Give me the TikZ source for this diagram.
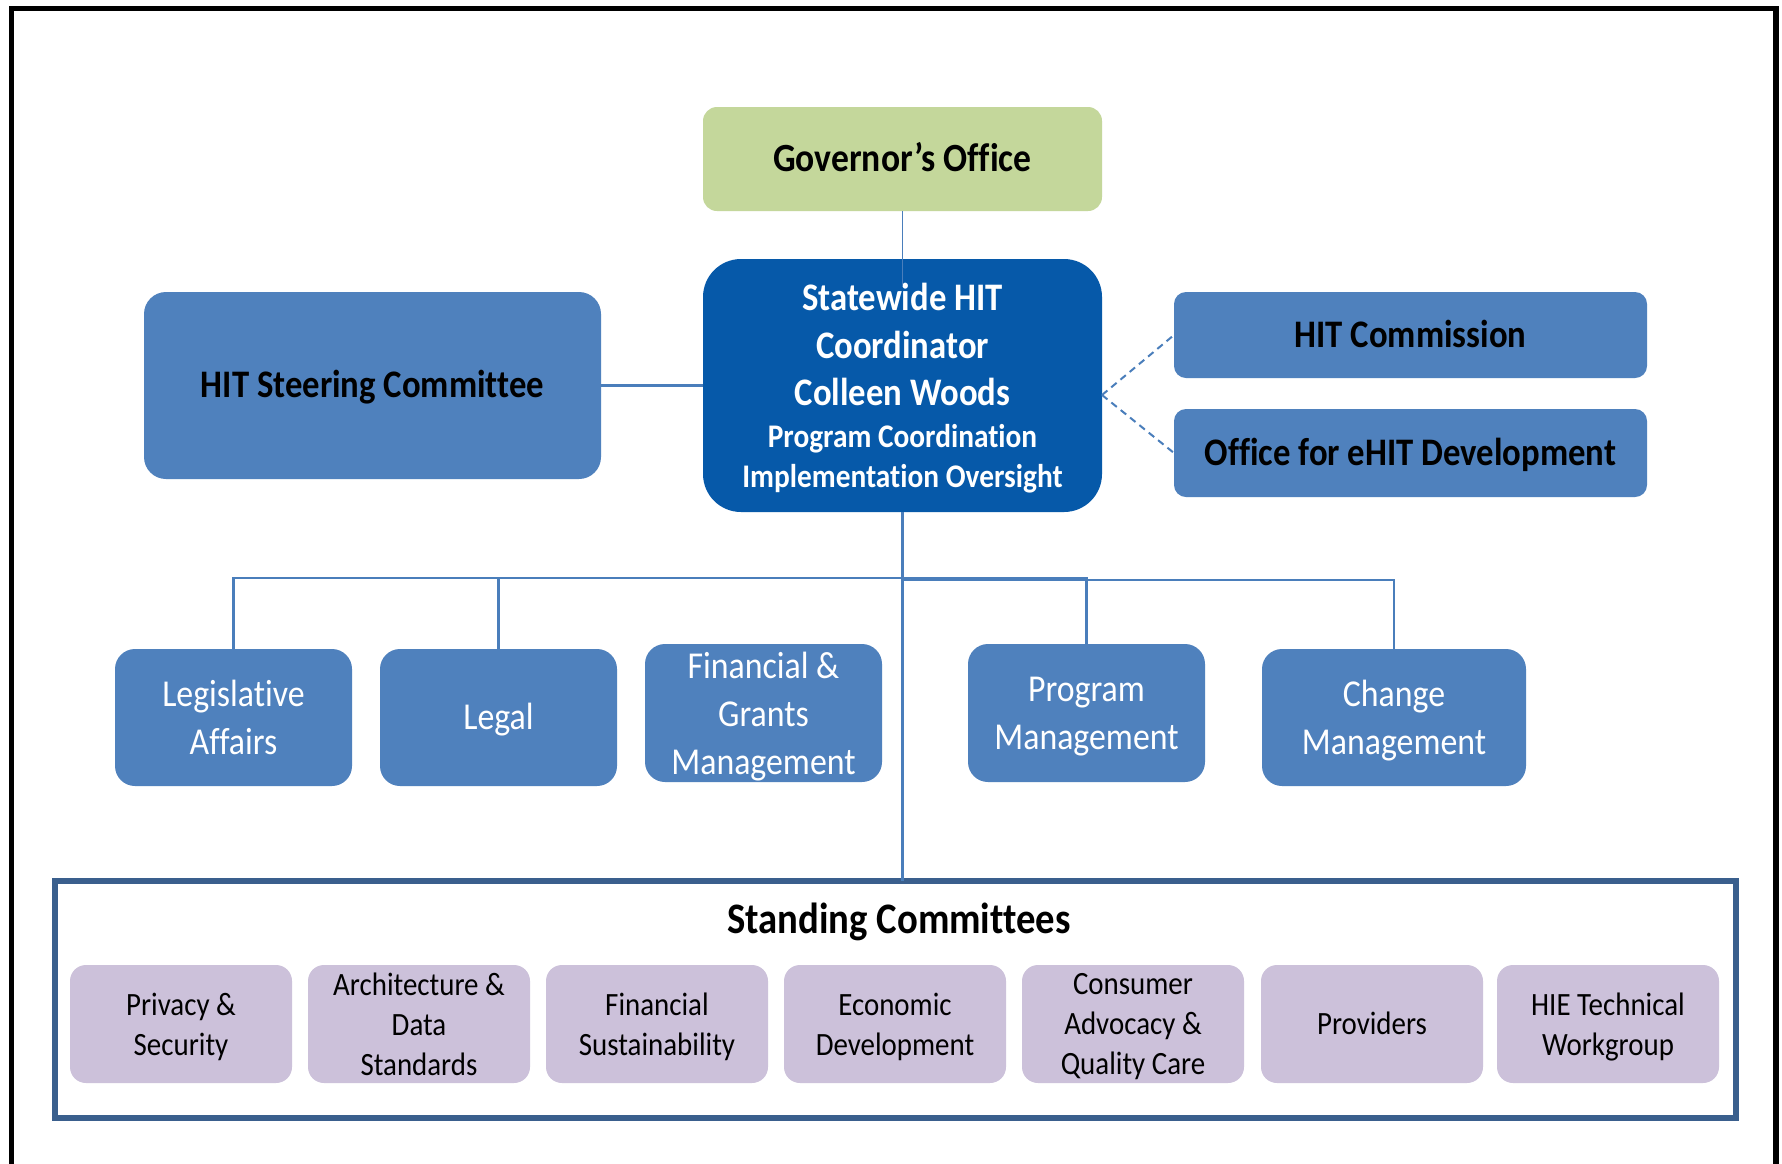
\documentclass[tikz,border=0pt]{standalone}
\usepackage{fontspec}
\setmainfont{Carlito}[FakeStretch=0.89, Ligatures=NoCommon]
\definecolor{govgreen}{HTML}{C4D79B}
\definecolor{swblue}{HTML}{0659A9}
\definecolor{boxblue}{HTML}{4F81BD}
\definecolor{linkblue}{HTML}{4A7EBB}
\definecolor{purp}{HTML}{CCC1DA}
\definecolor{standborder}{HTML}{3A5F8D}
\begin{document}
\begin{tikzpicture}[x=1pt,y=-1pt,
  base/.style={inner sep=0pt, outer sep=0pt, align=center},
  oneline/.style={text height=#1, text depth=0pt},
  govbox/.style={base, oneline=25.2pt, fill=govgreen, rounded corners=14pt, minimum width=399pt, minimum height=104pt, font=\fontsize{40}{47}\selectfont\bfseries},
  swbox/.style={base, fill=swblue, rounded corners=38pt, minimum width=399pt, minimum height=253pt},
  swbig/.style={base, anchor=base, text=white, font=\fontsize{39}{47}\selectfont\bfseries},
  swsmall/.style={base, anchor=base, text=white, font=\fontsize{33}{40}\selectfont\bfseries},
  sidebox/.style={base, oneline=24.6pt, fill=boxblue, rounded corners=22pt, font=\fontsize{39}{47}\selectfont\bfseries},
  rightbox/.style={base, oneline=24.6pt, fill=boxblue, rounded corners=12pt, minimum width=473pt, font=\fontsize{39}{47}\selectfont\bfseries},
  childbox/.style={base, text depth=0pt, fill=boxblue, rounded corners=20pt, minimum width=237pt, minimum height=137pt, text=white, font=\fontsize{38}{48}\selectfont},
  purpbox/.style={base, text depth=0pt, fill=purp, rounded corners=16pt, minimum width=222pt, minimum height=118pt, font=\fontsize{32.5}{40}\selectfont},
  link/.style={draw=linkblue, line width=2.2pt},
  dlink/.style={draw=linkblue, line width=2pt, dash pattern=on 7pt off 5pt}
]
\useasboundingbox (0,0) rectangle (1782,1163);
\fill[white] (0,0) rectangle (1782,1163);
% outer frame (open at the bottom)
\draw[black, line width=5.5pt] (11.5,1170) -- (11.5,8.5) -- (1776,8.5) -- (1776,1170);

% top
\node[govbox] (gov) at (902.5,159) {Governor’s Office};
\node[swbox] (sw) at (902.5,385.5) {};
\node[swbig] (sw1) at (902.5,310) {Statewide HIT};
\node[swbig] (sw2) at (902.5,358.5) {Coordinator};
\node[swbig] (sw3) at (902.5,405) {Colleen Woods};
\node[swsmall] (sw4) at (902.5,447.5) {Program Coordination};
\node[swsmall] (sw5) at (902.5,487) {Implementation Oversight};

\node[sidebox, minimum width=457pt, minimum height=187pt] (steer) at (372.5,385.5) {HIT Steering Committee};
\node[rightbox, minimum height=86pt] (hitc) at (1410.5,335) {HIT Commission};
\node[rightbox, minimum height=88pt] (oehit) at (1410.5,453) {Office for eHIT Development};

% second row
\node[childbox] (leg) at (233.5,717.5) {Legislative\\Affairs};
\node[childbox, oneline=24pt] (legal) at (498.5,717.5) {Legal};
\node[childbox, minimum height=138pt] (fin) at (763.5,713) {Financial \&\\Grants\\Management};
\node[childbox, minimum height=138pt] (prog) at (1086.5,713) {Program\\Management};
\node[childbox, minimum width=264pt] (chg) at (1394,717.5) {Change\\Management};

% standing committees
\node[base, draw=standborder, line width=5.5pt, minimum width=1681pt, minimum height=237pt] (stand) at (895.5,999.5) {};
\node[base, anchor=base, font=\fontsize{43.5}{50}\selectfont\bfseries] (standt) at (899,933) {Standing Committees};
\node[purpbox] (p1) at (181,1024) {Privacy \&\\Security};
\node[purpbox] (p2) at (419,1024) {Architecture \&\\Data\\Standards};
\node[purpbox] (p3) at (657,1024) {Financial\\Sustainability};
\node[purpbox] (p4) at (895,1024) {Economic\\Development};
\node[purpbox] (p5) at (1133,1024) {Consumer\\Advocacy \&\\Quality Care};
\node[purpbox, oneline=20.5pt] (p6) at (1372,1024) {Providers};
\node[purpbox] (p7) at (1608,1024) {HIE Technical\\Workgroup};

% connectors
\coordinate (govend) at (902.5,286);
\coordinate (bus) at (902.5,578);
\coordinate (bus2) at (902.5,580);
\coordinate (swr) at (1102,395);
\draw[link, line width=1.6pt] (gov.south) -- (govend);
\draw[link] (steer.east) -- (steer.east -| sw.west);
\draw[dlink] (swr) -- (hitc.west);
\draw[dlink] (swr) -- (oehit.west);
\draw[link] (sw.south) -- (bus) -| (leg.north);
\draw[link] (bus) -| (legal.north);
\draw[link] (bus) -| (prog.north);
\draw[link] (bus2) -| (chg.north);
\draw[link] (sw.south) -- (sw.south |- stand.north);
\end{tikzpicture}
\end{document}
